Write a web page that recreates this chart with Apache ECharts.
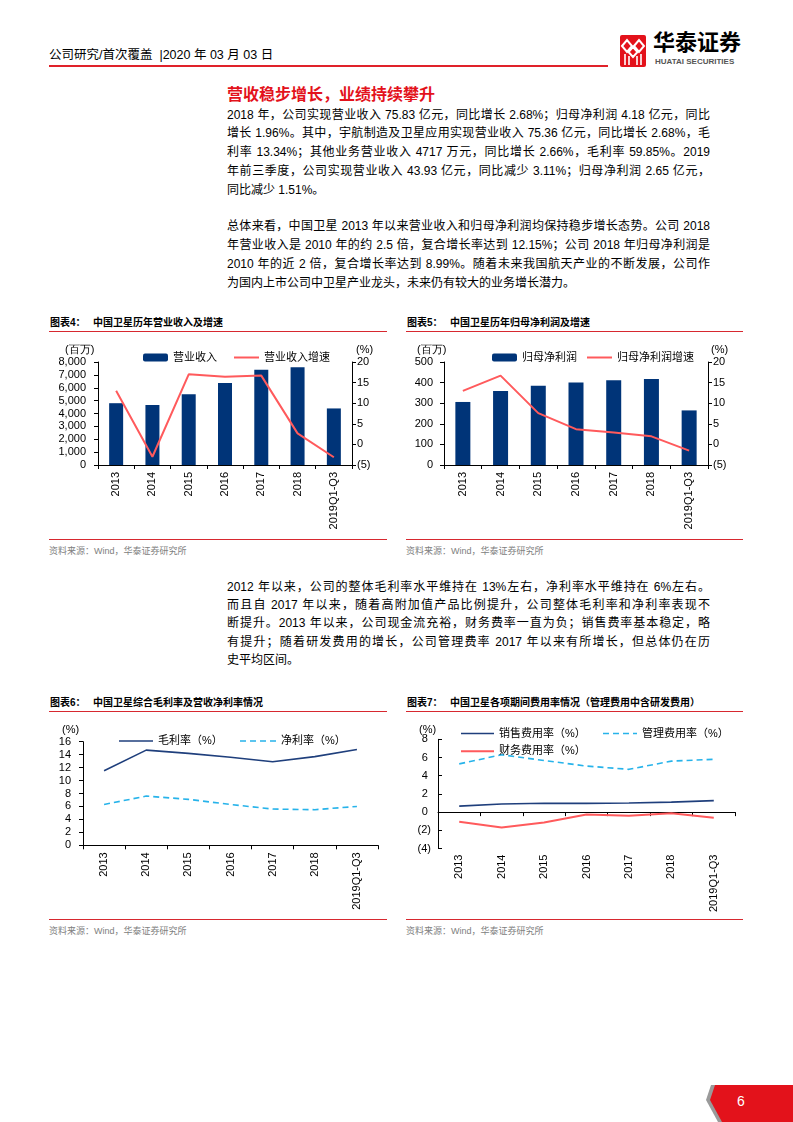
<!DOCTYPE html>
<html><head><meta charset="utf-8">
<script src="https://cdn.jsdelivr.net/npm/echarts@6/dist/echarts.min.js"></script>
<style>
html,body{margin:0;padding:0;background:#fff;}
#page{position:relative;width:793px;height:1122px;overflow:hidden;font-family:"Liberation Sans","Noto Sans CJK SC",sans-serif;color:#000;}
.abs{position:absolute;white-space:nowrap;}
.ln{position:absolute;left:227px;width:483px;font-size:12px;line-height:18px;height:18px;overflow:hidden;}
.j{text-align:justify;text-align-last:justify;}
.ctitle{position:absolute;font-size:10px;font-weight:bold;line-height:14px;white-space:nowrap;}
.rl{position:absolute;height:1.5px;background:#d7282f;}
.src{position:absolute;font-size:9px;color:#808080;line-height:12px;white-space:nowrap;}
.chart{position:absolute;}
</style></head>
<body><div id="page"></div>
<script>
// ---------- DATA ----------
const years = ['2013','2014','2015','2016','2017','2018','2019Q1-Q3'];
const revenue = [4800, 4660, 5490, 6370, 7400, 7583, 4393];          // 百万
const revenueGrowth = [13.0, -3.0, 17.0, 16.4, 16.7, 2.68, -3.11];   // %
const netProfit = [306, 359, 385, 401, 411, 418, 265];               // 百万
const netProfitGrowth = [13.0, 16.7, 7.6, 3.7, 2.9, 1.96, -1.51];    // %
const grossMargin = [11.5, 14.7, 14.2, 13.6, 12.9, 13.7, 14.8];      // %
const netMargin = [6.3, 7.6, 7.1, 6.3, 5.6, 5.5, 6.0];               // %
const sellingRate = [0.66, 0.89, 0.98, 0.96, 1.0, 1.1, 1.26];        // %
const adminRate = [5.3, 6.3, 5.67, 5.06, 4.7, 5.6, 5.8];             // %
const financeRate = [-1.06, -1.7, -1.14, -0.27, -0.4, -0.13, -0.62]; // %

const para1 = [
 '2018 年，公司实现营业收入 75.83 亿元，同比增长 2.68%；归母净利润 4.18 亿元，同比',
 '增长 1.96%。其中，宇航制造及卫星应用实现营业收入 75.36 亿元，同比增长 2.68%，毛',
 '利率 13.34%；其他业务营业收入 4717 万元，同比增长 2.66%，毛利率 59.85%。2019',
 '年前三季度，公司实现营业收入 43.93 亿元，同比减少 3.11%；归母净利润 2.65 亿元，',
 '同比减少 1.51%。'];
const para2 = [
 '总体来看，中国卫星 2013 年以来营业收入和归母净利润均保持稳步增长态势。公司 2018',
 '年营业收入是 2010 年的约 2.5 倍，复合增长率达到 12.15%；公司 2018 年归母净利润是',
 '2010 年的近 2 倍，复合增长率达到 8.99%。随着未来我国航天产业的不断发展，公司作',
 '为国内上市公司中卫星产业龙头，未来仍有较大的业务增长潜力。'];
const para3 = [
 '2012 年以来，公司的整体毛利率水平维持在 13%左右，净利率水平维持在 6%左右。',
 '而且自 2017 年以来，随着高附加值产品比例提升，公司整体毛利率和净利率表现不',
 '断提升。2013 年以来，公司现金流充裕，财务费率一直为负；销售费率基本稳定，略',
 '有提升；随着研发费用的增长，公司管理费率 2017 年以来有所增长，但总体仍在历',
 '史平均区间。'];

// ---------- PAGE ----------
const page = document.getElementById('page');
function add(html){ page.insertAdjacentHTML('beforeend', html); }

// header
add('<div class="abs" style="left:49px;top:47px;font-size:12.5px;line-height:17px;">公司研究/首次覆盖&nbsp;&nbsp;|2020 年 03 月 03 日</div>');
add('<div class="rl" style="left:49px;top:64.5px;width:559px;height:2px;background:#e0222a"></div>');
add('<svg class="abs" style="left:620px;top:35px" width="26" height="32" viewBox="0 0 26 32">'+
 '<rect x="0" y="0" width="26" height="32" rx="2" fill="#e3121b"/>'+
 '<path d="M2 11 L7 5 L12 11 L7 17Z M14 11 L19 5 L24 11 L19 17Z M8.5 17 L13 12 L17.5 17 L13 22Z" fill="none" stroke="#fff" stroke-width="2"/>'+
 '<path d="M5 19 V30 M9 21 V30 M17 21 V30 M21 19 V30" stroke="#fff" stroke-width="1.6"/></svg>');
add('<div class="abs" style="left:653px;top:30px;font-size:22px;font-weight:bold;line-height:26px;">华泰证券</div>');
add('<div class="abs" style="left:655px;top:57px;font-size:8px;color:#555;line-height:10px;font-weight:bold;">HUATAI SECURITIES</div>');

// section title
add('<div class="abs" style="left:227px;top:85px;font-size:16px;font-weight:bold;color:#e3121b;line-height:20px;">营收稳步增长，业绩持续攀升</div>');

function para(lines, y0, lh){
  lines.forEach((t,i)=>{
    const last = i===lines.length-1;
    add('<div class="ln'+(last?'':' j')+'" style="top:'+(y0+i*lh-9)+'px">'+t+'</div>');
  });
}
para(para1, 114.5, 18.75);
para(para2, 226, 19);
para(para3, 586.5, 18.4);

function chartFrame(x, w, yTitle, yBottom, label, title){
  add('<div class="ctitle" style="left:'+(x+1)+'px;top:'+(yTitle-7)+'px">'+label+'</div>');
  add('<div class="ctitle" style="left:'+(x+44)+'px;top:'+(yTitle-7)+'px">'+title+'</div>');
  add('<div class="rl" style="left:'+x+'px;top:'+(yTitle+7.5)+'px;width:'+w+'px"></div>');
  add('<div class="rl" style="left:'+x+'px;top:'+(yBottom)+'px;width:'+w+'px"></div>');
  add('<div class="src" style="left:'+x+'px;top:'+(yBottom+6)+'px">资料来源：Wind，华泰证券研究所</div>');
}
chartFrame(49, 338, 323, 538.5, '图表4：', '中国卫星历年营业收入及增速');
chartFrame(406, 337, 323, 538.5, '图表5：', '中国卫星历年归母净利润及增速');
chartFrame(49, 338, 703, 918.5, '图表6：', '中国卫星综合毛利率及营收净利率情况');
chartFrame(406, 337, 703, 918.5, '图表7：', '中国卫星各项期间费用率情况（管理费用中含研发费用）');

// page number
add('<svg class="abs" style="left:0;top:0" width="793" height="1122">'+
 '<polygon points="711,1085 793,1085 793,1122 718,1122 706,1100" fill="#9a9a9a"/>'+
 '<polygon points="715,1085 793,1085 793,1122 722,1122 710,1100" fill="#e3121b"/>'+
 '<text x="741" y="1105.5" fill="#fff" font-size="14" text-anchor="middle" font-family="Liberation Sans">6</text></svg>');

// ---------- CHARTS ----------
const FF = '"Liberation Sans","Noto Sans CJK SC",sans-serif';
const NAVY = '#003478';
const RED = '#ff5a5c';
const DBLUE = '#1f3f7c';
const CYAN = '#27b3ea';

function mkDiv(l,t,w,h){
  const d = document.createElement('div');
  d.className='chart';
  d.style.cssText='left:'+l+'px;top:'+t+'px;width:'+w+'px;height:'+h+'px';
  page.appendChild(d);
  return echarts.init(d, null, {renderer:'canvas'});
}
const paren = v => v < 0 ? '(' + (-v) + ')' : String(v);
const blk = {color:'#000'};
function catAxis(margin){
  return {type:'category', data:years,
    axisLine:{lineStyle:{color:'#000',width:1}},
    axisTick:{show:true,length:4,lineStyle:blk},
    axisLabel:{rotate:90,fontSize:11,color:'#000',margin:margin,interval:0,fontFamily:FF}};
}
function valAxis(min,max,iv,pos,margin,fmt,tickInside){
  return {type:'value',min:min,max:max,interval:iv,position:pos,
    axisLine:{show:true,lineStyle:{color:'#000',width:1}},
    axisTick:{show:true,inside:!!tickInside,length:4,lineStyle:blk},
    splitLine:{show:false},
    axisLabel:{fontSize:11,color:'#000',margin:margin,formatter:fmt,fontFamily:FF}};
}
function gtext(x,y,t){
  return {type:'text',x:x,y:y,style:{text:t,fontSize:11,fill:'#000',font:'11px '+FF,verticalAlign:'middle',align:'left'}};
}
const legText = {fontSize:11,color:'#000',fontFamily:FF};
// legend icon shapes (solid / dashed line)
function solidIcon(w){ return 'path://M0,0H'+w+'V2H0Z'; }
function dashIcon(w){
  let p='', x=0;
  while (x < w) { const e=Math.min(x+6,w); p += 'M'+x+',0H'+e+'V2H'+x+'Z'; x += 10; }
  return 'path://'+p;
}
function barLegend(left, name){
  return {left:left,top:12,itemWidth:25,itemHeight:8,textStyle:legText,data:[name]};
}
function lineLegend(left, top, name, w, h, dashed){
  return {left:left,top:top,itemWidth:w,itemHeight:h,symbolKeepAspect:false,textStyle:legText,
    data:[{name:name,icon:dashed?dashIcon(w):solidIcon(w)}]};
}

// Chart 4
const c4 = mkDiv(40,335,355,200);
c4.setOption({
  animation:false, textStyle:{fontFamily:FF},
  grid:{left:58,right:43,top:27,bottom:70},
  legend:[barLegend(98,'营业收入'), lineLegend(189,12,'营业收入增速',25,2,false)],
  xAxis:catAxis(7),
  yAxis:[valAxis(0,8000,1000,'left',12,v=>v.toLocaleString('en-US')),
         valAxis(-5,20,5,'right',5,paren)],
  series:[
    {type:'bar',name:'营业收入',data:revenue,barWidth:14,itemStyle:{color:NAVY}},
    {type:'line',name:'营业收入增速',yAxisIndex:1,data:revenueGrowth,symbol:'none',lineStyle:{color:RED,width:2},itemStyle:{color:RED}}
  ],
  graphic:[gtext(25,15,'(百万)'),gtext(316,15,'(%)')]
});

// Chart 5
const c5 = mkDiv(400,335,350,200);
c5.setOption({
  animation:false, textStyle:{fontFamily:FF},
  grid:{left:44,right:42,top:27,bottom:70},
  legend:[barLegend(87,'归母净利润'), lineLegend(182,12,'归母净利润增速',25,2,false)],
  xAxis:catAxis(7),
  yAxis:[valAxis(0,500,100,'left',11,v=>String(v)),
         valAxis(-5,20,5,'right',5,paren)],
  series:[
    {type:'bar',name:'归母净利润',data:netProfit,barWidth:15,itemStyle:{color:NAVY}},
    {type:'line',name:'归母净利润增速',yAxisIndex:1,data:netProfitGrowth,symbol:'none',lineStyle:{color:RED,width:2},itemStyle:{color:RED}}
  ],
  graphic:[gtext(17,15,'(百万)'),gtext(311,15,'(%)')]
});

// Chart 6
const c6 = mkDiv(40,715,355,200);
c6.setOption({
  animation:false, textStyle:{fontFamily:FF},
  grid:{left:43,right:17,top:26.7,bottom:69.7},
  legend:[lineLegend(74,15.5,'毛利率（%）',34,1.6,false), lineLegend(195,15.5,'净利率（%）',36,1.6,true)],
  xAxis:catAxis(7),
  yAxis:valAxis(0,16,2,'left',12,v=>String(v)),
  series:[
    {type:'line',name:'毛利率（%）',data:grossMargin,symbol:'none',lineStyle:{color:DBLUE,width:1.6},itemStyle:{color:DBLUE}},
    {type:'line',name:'净利率（%）',data:netMargin,symbol:'none',lineStyle:{color:CYAN,width:1.6,type:[6,4]},itemStyle:{color:CYAN}}
  ],
  graphic:[gtext(22,15,'(%)')]
});

// Chart 7
const c7 = mkDiv(400,715,350,200);
c7.setOption({
  animation:false, textStyle:{fontFamily:FF},
  grid:{left:38,right:15,top:24.3,bottom:13.3},
  legend:[
    lineLegend(56,8,'销售费用率（%）',33,1.6,false),
    lineLegend(198,8,'管理费用率（%）',34,1.6,true),
    lineLegend(56,25.7,'财务费用率（%）',33,2,false)
  ],
  xAxis:catAxis(6),
  yAxis:valAxis(-4,8,2,'left',7,v=>v<0?'('+(-v)+')':v+' ',true),
  series:[
    {type:'line',name:'销售费用率（%）',data:sellingRate,symbol:'none',lineStyle:{color:DBLUE,width:1.6},itemStyle:{color:DBLUE}},
    {type:'line',name:'管理费用率（%）',data:adminRate,symbol:'none',lineStyle:{color:CYAN,width:1.6,type:[6,4]},itemStyle:{color:CYAN}},
    {type:'line',name:'财务费用率（%）',data:financeRate,symbol:'none',lineStyle:{color:RED,width:2},itemStyle:{color:RED}}
  ],
  graphic:[gtext(19,15,'(%)')]
});
</script>
</body></html>
